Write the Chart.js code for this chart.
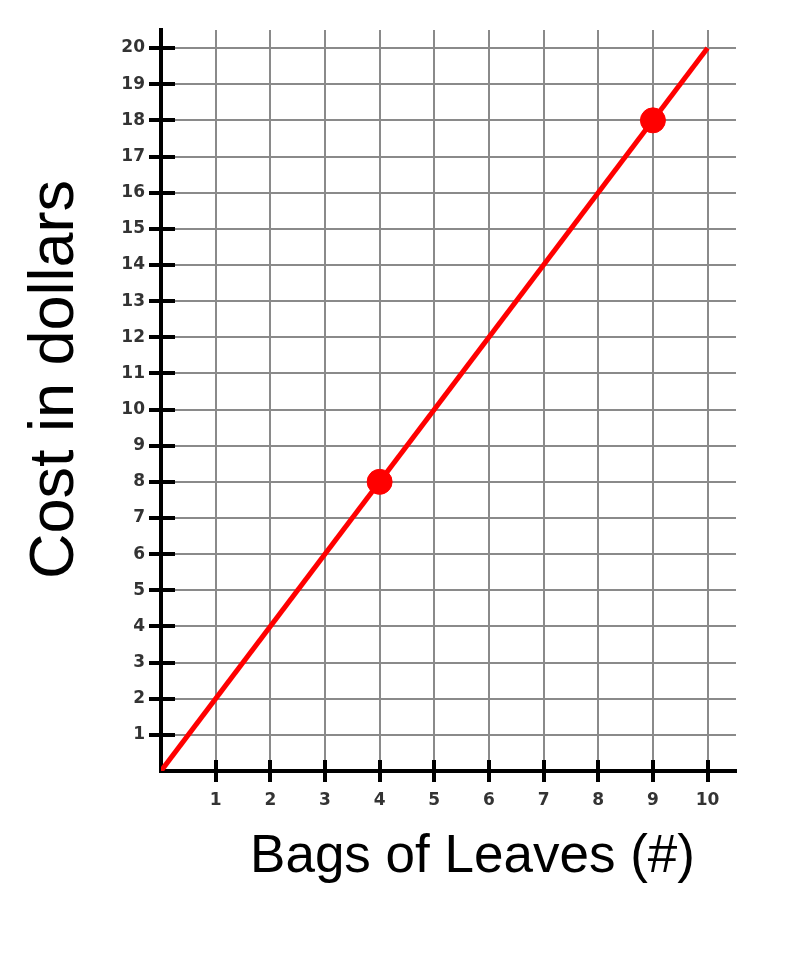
<!DOCTYPE html>
<html>
<head>
<meta charset="utf-8">
<script src="https://cdn.jsdelivr.net/npm/chart.js@4"></script>
<style>
  html, body { margin: 0; padding: 0; background: #fff; }
  #wrap { width: 798px; height: 954px; }
</style>
</head>
<body>
<div id="wrap"><canvas id="myChart"></canvas></div>
<script>
// values
let lineX = [0, 10];
let lineY = [0, 20];
let dotX = [4, 9];
let dotY = [8, 18];
let xTicks = [1, 2, 3, 4, 5, 6, 7, 8, 9, 10];
let yTicks = [1, 2, 3, 4, 5, 6, 7, 8, 9, 10, 11, 12, 13, 14, 15, 16, 17, 18, 19, 20];

function toPoints(xs, ys) {
  return xs.map(function (x, i) { return { x: x, y: ys[i] }; });
}

// the axis titles sit a little off-centre in the original
function shiftTitle(dx, dy) {
  return function (scale) {
    if (scale._shifted) return;
    let orig = scale.drawTitle;
    scale.drawTitle = function () {
      this.ctx.save();
      this.ctx.translate(dx, dy);
      orig.call(this);
      this.ctx.restore();
    };
    scale._shifted = true;
  };
}

// short black tick marks that cross each axis
let crossTicks = {
  id: 'crossTicks',
  afterDatasetsDraw: function (chart) {
    let ctx = chart.ctx;
    let xs = chart.scales.x, ys = chart.scales.y;
    let x0 = xs.getPixelForValue(0), y0 = ys.getPixelForValue(0);
    ctx.save();
    ctx.strokeStyle = '#000';
    ctx.lineWidth = 4;
    ctx.beginPath();
    xTicks.forEach(function (v) {
      let px = Math.round(xs.getPixelForValue(v));
      ctx.moveTo(px, y0 - 11);
      ctx.lineTo(px, y0 + 11);
    });
    yTicks.forEach(function (v) {
      let py = Math.round(ys.getPixelForValue(v));
      ctx.moveTo(x0 - 12, py);
      ctx.lineTo(x0 + 14, py);
    });
    ctx.stroke();
    ctx.restore();
  }
};

let tickFont = { family: 'DejaVu Sans', size: 17, weight: 'bold' };
let gridStyle = { color: '#8a8a8a', lineWidth: 2, drawTicks: false };

var ctx = document.getElementById('myChart').getContext('2d');
var chart = new Chart(ctx, {
  type: 'scatter',
  data: {
    datasets: [{
      label: 'Cost',
      data: toPoints(lineX, lineY),
      showLine: true,
      borderColor: '#ff0000',
      borderWidth: 5,
      pointRadius: 0,
      order: 2
    }, {
      label: 'Points',
      data: toPoints(dotX, dotY),
      backgroundColor: '#ff0000',
      borderColor: '#ff0000',
      pointRadius: 12.5,
      order: 1
    }]
  },
  options: {
    responsive: true,
    maintainAspectRatio: false,
    animation: false,
    layout: { padding: { top: 30, right: 62, bottom: 50, left: 0 } },
    plugins: { legend: { display: false }, tooltip: { enabled: false } },
    scales: {
      x: {
        type: 'linear',
        min: 0,
        max: 10.52,
        afterBuildTicks: function (scale) {
          scale.ticks = xTicks.map(function (v) { return { value: v }; });
        },
        afterFit: function (scale) { scale.height = 133; },
        afterUpdate: shiftTitle(24, 0),
        grid: gridStyle,
        border: { color: '#000', width: 4 },
        ticks: { font: tickFont, color: '#333', padding: 19, maxRotation: 0 },
        title: {
          display: true,
          text: 'Bags of Leaves (#)',
          color: '#000',
          font: { family: 'Liberation Sans', size: 53 },
          padding: { top: 0, bottom: 15 }
        }
      },
      y: {
        type: 'linear',
        min: 0,
        max: 20.5,
        afterBuildTicks: function (scale) {
          scale.ticks = yTicks.map(function (v) { return { value: v }; });
        },
        afterFit: function (scale) { scale.width = 161; },
        afterUpdate: shiftTitle(0, -21),
        grid: gridStyle,
        border: { color: '#000', width: 4 },
        ticks: { font: tickFont, color: '#333', padding: 16 },
        title: {
          display: true,
          text: 'Cost in dollars',
          color: '#000',
          font: { family: 'Liberation Sans', size: 63 },
          padding: { top: 18, bottom: 0 }
        }
      }
    }
  },
  plugins: [crossTicks]
});
</script>
</body>
</html>
